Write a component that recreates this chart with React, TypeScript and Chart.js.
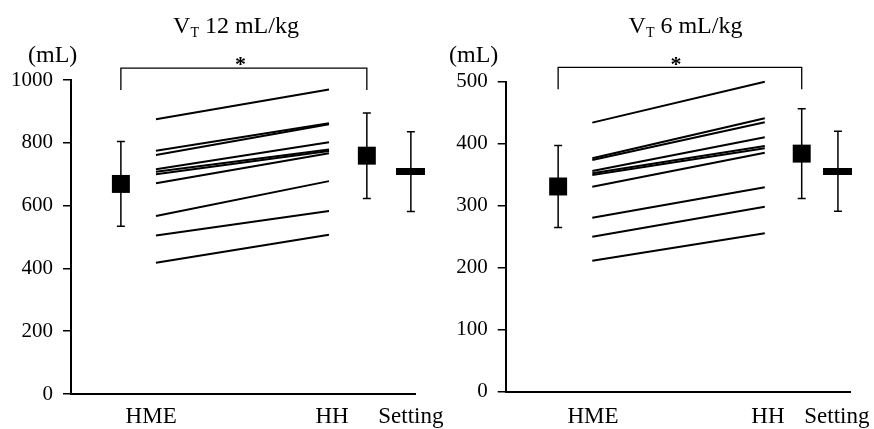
import React, { useEffect, useRef } from 'react';
import { Chart, registerables } from 'chart.js';

Chart.register(...registerables);

const FONT = '"Liberation Serif", "Times New Roman", serif';

// Category labels
const categories = ['HME', 'HH', 'Setting'];

// Panel 1: VT 12 mL/kg — individual subjects
const hme12 = [875, 775, 761, 716, 708, 700, 671, 567, 505, 418];
const hh12 = [970, 862, 859, 802, 779, 774, 767, 678, 583, 507];
// means and SD for HME, HH, Setting
const mean12 = [669, 759, 708];
const sd12 = [135, 136, 127];
const yMax12 = 1000;
const yStep12 = 200;
const bracket12 = [968, 1038];

// Panel 2: VT 6 mL/kg
const hme6 = [434, 376.5, 373.7, 356, 352.3, 349.5, 330.6, 280.6, 250, 211.3];
const hh6 = [500, 441, 434.5, 410.3, 396.3, 392.6, 385.5, 329.7, 298.4, 255.5];
const mean6 = [331, 384, 355.5];
const sd6 = [66, 72.5, 64.5];
const yMax6 = 500;
const yStep6 = 100;
const bracket6 = [487.7, 523];

type Panel = {
  title: string;
  hme: number[];
  hh: number[];
  mean: number[];
  sd: number[];
  yMax: number;
  yStep: number;
  bracket: number[];
  area: { left: number; right: number; top: number; bottom: number };
  markerX: number[];
  lineX: number[];
  labelX: number[];
  titleCx: number;
  unitX: number;
  starX: number;
};

const panels: Panel[] = [
  {
    title: ' 12 mL/kg',
    hme: hme12, hh: hh12, mean: mean12, sd: sd12, yMax: yMax12, yStep: yStep12, bracket: bracket12,
    area: { left: 71, right: 415, top: 80, bottom: 394 },
    markerX: [1.45, 8.6, 9.88],
    lineX: [2.47, 7.5],
    labelX: [2.33, 7.59, 9.88],
    titleCx: 236, unitX: 28, starX: 240.5,
  },
  {
    title: ' 6 mL/kg',
    hme: hme6, hh: hh6, mean: mean6, sd: sd6, yMax: yMax6, yStep: yStep6, bracket: bracket6,
    area: { left: 505.7, right: 850.7, top: 81.7, bottom: 391.7 },
    markerX: [1.52, 8.58, 9.63],
    lineX: [2.51, 7.51],
    labelX: [2.53, 7.6, 9.6],
    titleCx: 685.5, unitX: 449, starX: 676,
  },
];

const W = 874;
const H = 429;
const Y_AXIS_W = 60;
const X_AXIS_H = 20;

function PanelChart({ p }: { p: Panel }) {
  const ref = useRef<HTMLCanvasElement | null>(null);
  useEffect(() => {
    if (!ref.current) return;
    const settingImg = document.createElement('canvas');
    settingImg.width = 29;
    settingImg.height = 7;
    const sctx = settingImg.getContext('2d')!;
    sctx.fillStyle = '#000';
    sctx.fillRect(0, 0, 29, 7);

    const datasets: any[] = [];
    p.hme.forEach((v, i) => {
      datasets.push({
        data: [{ x: p.lineX[0], y: v }, { x: p.lineX[1], y: p.hh[i] }],
        showLine: true, borderColor: '#000', borderWidth: 2, pointRadius: 0, clip: false,
      });
    });
    datasets.push({
      data: [
        { x: p.markerX[0], y: p.bracket[0] },
        { x: p.markerX[0], y: p.bracket[1] },
        { x: p.markerX[1], y: p.bracket[1] },
        { x: p.markerX[1], y: p.bracket[0] },
      ],
      showLine: true, borderColor: '#000', borderWidth: 1.3, pointRadius: 0, clip: false,
    });
    datasets.push({
      data: [{ x: p.markerX[0], y: p.mean[0] }, { x: p.markerX[1], y: p.mean[1] }],
      pointStyle: 'rect', pointRadius: 12.7, backgroundColor: '#000', borderWidth: 0, clip: false,
    });
    datasets.push({
      data: [{ x: p.markerX[2], y: p.mean[2] }],
      pointStyle: settingImg, pointRadius: 10, clip: false,
    });

    const errorBars = {
      id: 'errorBars',
      beforeDatasetsDraw(chart: any) {
        const ctx = chart.ctx;
        const xs = chart.scales.x;
        const ys = chart.scales.y;
        ctx.save();
        ctx.strokeStyle = '#000';
        ctx.lineWidth = 1.5;
        p.mean.forEach((m, i) => {
          const x = xs.getPixelForValue(p.markerX[i]);
          const yt = ys.getPixelForValue(m + p.sd[i]);
          const yb = ys.getPixelForValue(m - p.sd[i]);
          ctx.beginPath();
          ctx.moveTo(x, yt);
          ctx.lineTo(x, yb);
          ctx.moveTo(x - 4, yt);
          ctx.lineTo(x + 4, yt);
          ctx.moveTo(x - 4, yb);
          ctx.lineTo(x + 4, yb);
          ctx.stroke();
        });
        ctx.restore();
      },
    };

    const texts = {
      id: 'texts',
      afterDraw(chart: any) {
        const ctx = chart.ctx;
        const xs = chart.scales.x;
        ctx.save();
        ctx.fillStyle = '#000';
        // title with subscript
        const big = `24px ${FONT}`;
        const small = `14px ${FONT}`;
        ctx.font = big;
        const wV = ctx.measureText('V').width;
        const wRest = ctx.measureText(p.title).width;
        ctx.font = small;
        const wT = ctx.measureText('T').width;
        const total = wV + wT + wRest;
        const x0 = p.titleCx - total / 2;
        ctx.textBaseline = 'alphabetic';
        ctx.textAlign = 'left';
        ctx.font = big;
        ctx.fillText('V', x0, 33);
        ctx.font = small;
        ctx.fillText('T', x0 + wV, 37);
        ctx.font = big;
        ctx.fillText(p.title, x0 + wV + wT, 33);
        // unit
        ctx.font = `24px ${FONT}`;
        ctx.fillText('(mL)', p.unitX, 62);
        // star
        ctx.textAlign = 'center';
        ctx.font = `bold 22px ${FONT}`;
        ctx.fillText('*', p.starX, 71);
        // category labels
        ctx.font = `23px ${FONT}`;
        categories.forEach((c, i) => {
          ctx.fillText(c, xs.getPixelForValue(p.labelX[i]), 423);
        });
        ctx.restore();
      },
    };

    const chart = new Chart(ref.current, {
      type: 'scatter',
      data: { datasets },
      plugins: [errorBars, texts],
      options: {
        animation: false,
        responsive: false,
        devicePixelRatio: 1,
        events: [],
        layout: {
          padding: {
            left: p.area.left - Y_AXIS_W,
            top: p.area.top,
            right: W - p.area.right,
            bottom: H - p.area.bottom - X_AXIS_H,
          },
        },
        plugins: { legend: { display: false }, tooltip: { enabled: false } },
        scales: {
          x: {
            type: 'linear', min: 0, max: 10,
            grid: { display: false },
            border: { display: true, color: '#000', width: 2 },
            ticks: { display: false },
            afterFit: (s: any) => { s.height = X_AXIS_H; },
          },
          y: {
            min: 0, max: p.yMax,
            ticks: {
              stepSize: p.yStep, color: '#000', font: { family: FONT, size: 21 }, padding: 10,
              callback: (v: any) => String(v),
            },
            grid: { display: true, drawOnChartArea: false, drawTicks: true, tickLength: 8, color: '#000', lineWidth: 1.5 },
            border: { display: true, color: '#000', width: 2 },
            afterFit: (s: any) => { s.width = Y_AXIS_W; },
          },
        },
      } as any,
    });
    return () => chart.destroy();
  }, [p]);
  return (
    <canvas
      ref={ref}
      width={W}
      height={H}
      style={{ position: 'absolute', left: 0, top: 0, width: W, height: H }}
    />
  );
}

export default function App() {
  return (
    <div style={{ position: 'fixed', left: 0, top: 0, width: W, height: H, background: '#fff' }}>
      {panels.map((p, i) => (
        <PanelChart key={i} p={p} />
      ))}
    </div>
  );
}
